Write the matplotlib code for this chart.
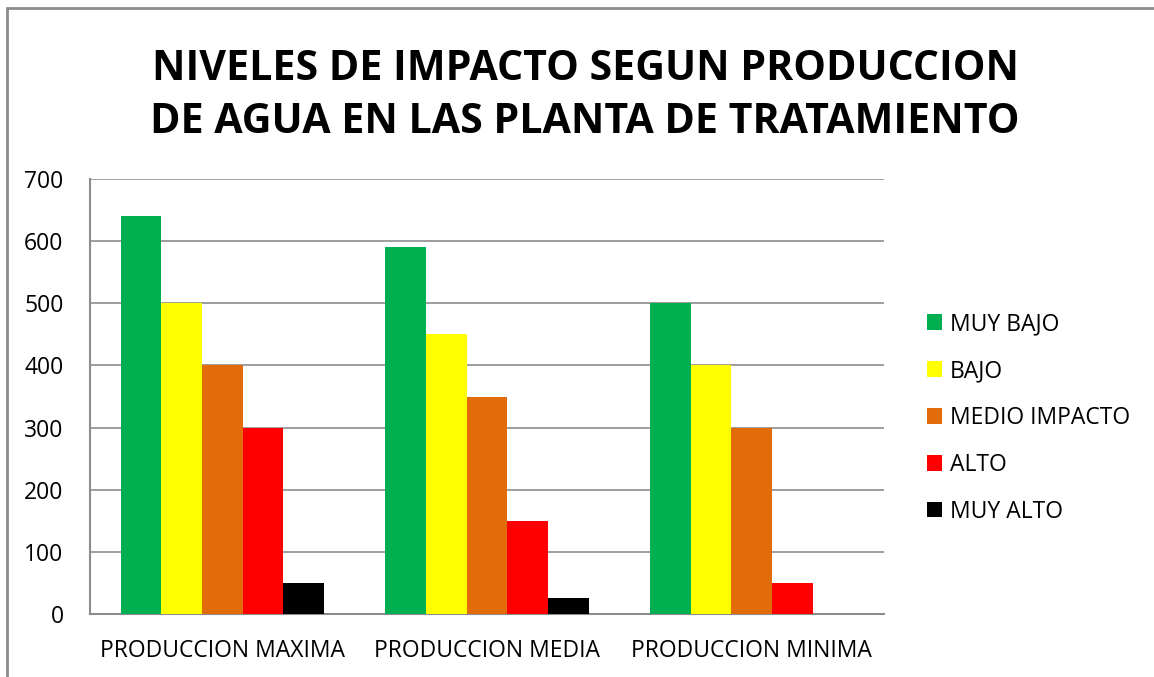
import matplotlib
matplotlib.use("Agg")
import matplotlib.pyplot as plt
import numpy as np
from matplotlib.patches import Rectangle

categories = ["PRODUCCION MAXIMA", "PRODUCCION MEDIA", "PRODUCCION MINIMA"]
series_names = ["MUY BAJO", "BAJO", "MEDIO IMPACTO", "ALTO", "MUY ALTO"]
muy_bajo = [640, 590, 500]
bajo = [500, 450, 400]
medio = [400, 350, 300]
alto = [300, 150, 50]
muy_alto = [50, 25, 0]
colors = ["#00B050", "#FFFF00", "#E36C0A", "#FF0000", "#000000"]
y_ticks = [0, 100, 200, 300, 400, 500, 600, 700]
title = "NIVELES DE IMPACTO SEGUN PRODUCCION\nDE AGUA EN LAS PLANTA DE TRATAMIENTO"

plt.rcParams["font.family"] = ["Open Sans", "DejaVu Sans"]

W, H = 1154, 677
fig = plt.figure(figsize=(W / 100, H / 100), dpi=100)

# chart border (only top and left edges fall inside the image)
fig.patches.append(Rectangle((7 / W, -0.1), 1.2, 1 - 8 / H + 0.1, transform=fig.transFigure,
                             fill=False, edgecolor="#8c8c8c", linewidth=2.0))

ax = fig.add_axes([90 / W, 1 - 614 / H, (884 - 90) / W, (614 - 179) / H])

values = [muy_bajo, bajo, medio, alto, muy_alto]
n = len(series_names)
bw = 1.0 / (n + 1.5)
x = np.arange(len(categories))
for i, (name, vals, c) in enumerate(zip(series_names, values, colors)):
    offs = (i - (n - 1) / 2) * bw
    ax.bar(x + offs, vals, width=bw, color=c, label=name, zorder=3)

ax.set_xlim(-0.5, len(categories) - 0.5)
ax.set_ylim(0, 700)
ax.set_yticks(y_ticks)
ax.set_yticklabels([str(v) for v in y_ticks], fontsize=16.5)
ax.set_xticks(x)
ax.set_xticklabels(categories, fontsize=16.5)
ax.tick_params(axis="y", length=0, pad=19)
ax.tick_params(axis="x", length=0, pad=18)
ax.grid(axis="y", color="#8c8c8c", linewidth=1.2, zorder=0)
for s in ["top", "right"]:
    ax.spines[s].set_visible(False)
for s in ["left", "bottom"]:
    ax.spines[s].set_color("#8c8c8c")
    ax.spines[s].set_linewidth(1.5)

fig.text(585 / W, 1 - 96 / H, title, ha="center", va="center", fontsize=29.6,
         fontweight="bold", linespacing=1.4)

leg = fig.legend(loc="center left", bbox_to_anchor=(906 / W, 1 - 418 / H), frameon=False,
                 fontsize=16.5, handlelength=0.65, handleheight=0.65, handletextpad=0.35,
                 labelspacing=1.0)

fig.savefig("out.png", dpi=100, facecolor="white")
